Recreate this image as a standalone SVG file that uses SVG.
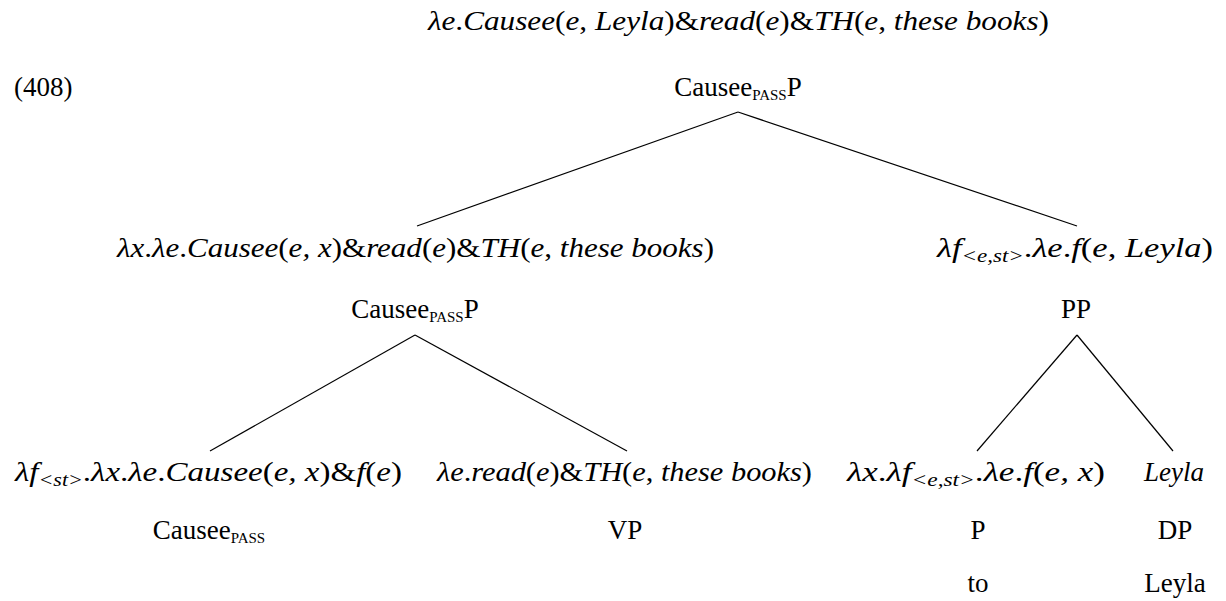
<svg xmlns="http://www.w3.org/2000/svg" width="1226" height="601" viewBox="0 0 1226 601">
<style>
text{font-family:"Liberation Serif","Times New Roman",serif;font-size:27px;fill:#000}
.m{font-family:"Liberation Serif","Times New Roman",serif;font-style:italic}
.f{text-anchor:middle}
.sc{font-size:15px}
.sub{font-size:18px}
line{stroke:#000;stroke-width:1.2}
</style>
<rect width="1226" height="601" fill="#fff"/>
<text x="14" y="96">(408)</text>
<g id="n-root">
<text class="f" x="738.5" y="30" textLength="621" lengthAdjust="spacingAndGlyphs"><tspan class="m">λe</tspan>.<tspan class="m">Causee</tspan>(<tspan class="m">e</tspan>, <tspan class="m">Leyla</tspan>)&amp;<tspan class="m">read</tspan>(<tspan class="m">e</tspan>)&amp;<tspan class="m">TH</tspan>(<tspan class="m">e</tspan>, <tspan class="m">these books</tspan>)</text>
<text class="f" x="738" y="96">Causee<tspan class="sc" dy="4">PASS</tspan><tspan dy="-4">P</tspan></text>
</g>
<g id="n-causeeP">
<text class="f" x="415.5" y="257" textLength="597" lengthAdjust="spacingAndGlyphs"><tspan class="m">λx</tspan>.<tspan class="m">λe</tspan>.<tspan class="m">Causee</tspan>(<tspan class="m">e, x</tspan>)&amp;<tspan class="m">read</tspan>(<tspan class="m">e</tspan>)&amp;<tspan class="m">TH</tspan>(<tspan class="m">e</tspan>, <tspan class="m">these books</tspan>)</text>
<text class="f" x="415" y="318">Causee<tspan class="sc" dy="4">PASS</tspan><tspan dy="-4">P</tspan></text>
</g>
<g id="n-PP">
<text class="f" x="1075" y="257" textLength="276" lengthAdjust="spacingAndGlyphs"><tspan class="m">λf</tspan><tspan class="m sub" dy="5">&lt;e,st&gt;</tspan><tspan dy="-5">.</tspan><tspan class="m">λe</tspan>.<tspan class="m">f</tspan>(<tspan class="m">e</tspan>, <tspan class="m">Leyla</tspan>)</text>
<text class="f" x="1076" y="318">PP</text>
</g>
<g id="n-causee">
<text class="f" x="208.5" y="481" textLength="387" lengthAdjust="spacingAndGlyphs"><tspan class="m">λf</tspan><tspan class="m sub" dy="5">&lt;st&gt;</tspan><tspan dy="-5">.</tspan><tspan class="m">λx</tspan>.<tspan class="m">λe</tspan>.<tspan class="m">Causee</tspan>(<tspan class="m">e, x</tspan>)&amp;<tspan class="m">f</tspan>(<tspan class="m">e</tspan>)</text>
<text class="f" x="209" y="539">Causee<tspan class="sc" dy="4">PASS</tspan></text>
</g>
<g id="n-VP">
<text class="f" x="624.5" y="481" textLength="375" lengthAdjust="spacingAndGlyphs"><tspan class="m">λe</tspan>.<tspan class="m">read</tspan>(<tspan class="m">e</tspan>)&amp;<tspan class="m">TH</tspan>(<tspan class="m">e</tspan>, <tspan class="m">these books</tspan>)</text>
<text class="f" x="625" y="539">VP</text>
</g>
<g id="n-P">
<text class="f" x="976" y="481" textLength="258" lengthAdjust="spacingAndGlyphs"><tspan class="m">λx</tspan>.<tspan class="m">λf</tspan><tspan class="m sub" dy="5">&lt;e,st&gt;</tspan><tspan dy="-5">.</tspan><tspan class="m">λe</tspan>.<tspan class="m">f</tspan>(<tspan class="m">e, x</tspan>)</text>
<text class="f" x="978" y="539">P</text>
<text class="f" x="978" y="592">to</text>
</g>
<g id="n-DP">
<text class="f m" x="1174" y="481">Leyla</text>
<text class="f" x="1175" y="539">DP</text>
<text class="f" x="1175" y="592">Leyla</text>
</g>
<g id="connectors">
<line x1="738" y1="112" x2="417" y2="226"/>
<line x1="738" y1="112" x2="1077" y2="226"/>
<line x1="415" y1="335" x2="210" y2="451"/>
<line x1="415" y1="335" x2="627" y2="451"/>
<line x1="1077" y1="335" x2="977" y2="451"/>
<line x1="1077" y1="335" x2="1173" y2="451"/>
</g>
</svg>
